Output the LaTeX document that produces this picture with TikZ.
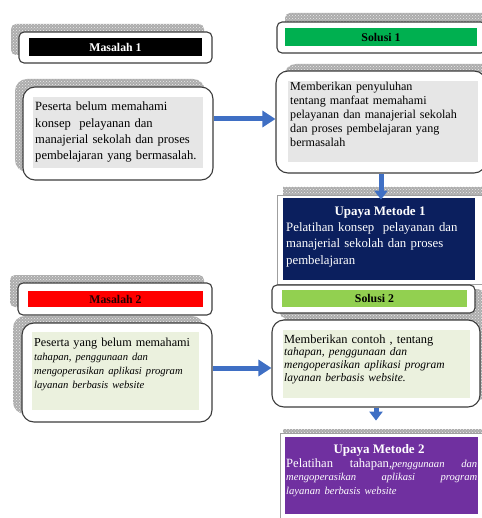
\documentclass[tikz,border=0pt]{standalone}
\usepackage{fontspec}
\setmainfont{Liberation Serif}
\usetikzlibrary{patterns,fit,arrows.meta}
\definecolor{boxline}{HTML}{3C3C3C}
\definecolor{greyfill}{HTML}{E6E6E6}
\definecolor{lgfill}{HTML}{EBF1DE}
\definecolor{sgreen}{HTML}{00B050}
\definecolor{lgreen}{HTML}{92D050}
\definecolor{navy}{HTML}{0B1F5E}
\definecolor{mred}{HTML}{FF0000}
\definecolor{purp}{HTML}{7030A0}
\definecolor{arrowblue}{HTML}{3F6FC4}
\newcommand{\itx}[1]{{\fontsize{10.6}{13}\selectfont\itshape #1}}
\begin{document}
\begin{tikzpicture}[x=1pt,y=-1pt,
  shadowpat/.style={preaction={fill=gray!65}, pattern=crosshatch dots, pattern color=gray!15},
  wbox/.style={draw=boxline, line width=1.1pt, fill=white, inner sep=0pt},
  hbox/.style={wbox, rounded corners=5pt},
  tbox/.style={wbox, rounded corners=12pt},
  ubox/.style={draw=gray!75, line width=0.8pt, fill=white, inner sep=0pt},
  bar/.style={inner sep=0pt, draw=none},
  ttl/.style={font=\bfseries\fontsize{11.8}{13}\selectfont, inner sep=0pt},
  para/.style={anchor=base west, inner sep=0pt, align=left, text width=#1},
  barrow/.style={line width=5pt, draw=arrowblue, -{Triangle[length=13pt,width=16pt]}},
  darrow/.style={line width=5pt, draw=arrowblue, -{Triangle[length=9pt,width=13pt]}},
]
\useasboundingbox (0,0) rectangle (481,518);

% ---------- Masalah 1 header
\path[shadowpat, rounded corners=5pt] (11,24) rectangle (204,55);
\node[hbox, fit={(19,32) (212,63)}] (m1h) {};
\node[bar, fill=black, fit={(29,38) (202,56)}] (m1bar) {};
\node[ttl, text=white] (m1ttl) at (m1bar.center) {Masalah 1};

% ---------- Masalah 1 text
\path[shadowpat, rounded corners=12pt] (15,79) rectangle (205,172);
\node[tbox, fit={(23,87) (213,180)}] (m1t) {};
\node[bar, fill=greyfill, fit={(33,97) (203,168)}] (m1fill) {};
\node[para=168pt, font=\fontsize{12.6}{16.3}\selectfont] (m1txt) at (35,111)
  {Peserta belum memahami\\ konsep\ \ pelayanan dan\\ manajerial sekolah dan proses\\ pembelajaran yang bermasalah.};

% ---------- Solusi 1 header
\path[shadowpat, rounded corners=5pt] (285,13) rectangle (492,45);
\node[hbox, fit={(277,22) (486,53)}] (s1h) {};
\node[bar, fill=sgreen, fit={(285,28) (477,46)}] (s1bar) {};
\node[ttl, text=black] (s1ttl) at (s1bar.center) {Solusi 1};

% ---------- Solusi 1 text
\path[shadowpat, rounded corners=12pt] (284,64) rectangle (494,165);
\node[tbox, fit={(276,71) (486,173)}] (s1t) {};
\node[bar, fill=greyfill, fit={(288,81) (478,162)}] (s1fill) {};
\node[para=188pt, font=\fontsize{12.1}{14}\selectfont] (s1txt) at (290,91)
  {Memberikan penyuluhan\\ tentang manfaat memahami\\ pelayanan dan manajerial sekolah\\ dan proses pembelajaran yang\\ bermasalah};

% ---------- Upaya Metode 1
\path[shadowpat] (283,187) rectangle (492,276);
\node[ubox, fit={(277,195) (483,284)}] (u1) {};
\node[bar, fill=navy, fit={(283,198) (475,280)}] (u1fill) {};
\node[ttl, text=white, font=\bfseries\fontsize{13}{14}\selectfont] (u1ttl) at (380,212) {Upaya Metode 1};
\node[para=188pt, text=white, font=\fontsize{12.8}{16.5}\selectfont] (u1txt) at (286,231)
  {Pelatihan konsep\ \ pelayanan dan\\ manajerial sekolah dan proses\\ pembelajaran};

% ---------- Masalah 2 header
\path[shadowpat, rounded corners=5pt] (10,275) rectangle (204,307);
\node[hbox, fit={(18,283) (212,315)}] (m2h) {};
\node[bar, fill=mred, fit={(28,291) (203,307)}] (m2bar) {};
\node[ttl, text=black!85!red] (m2ttl) at (m2bar.center) {Masalah 2};

% ---------- Masalah 2 text
\path[shadowpat, rounded corners=12pt] (13,316) rectangle (204,414);
\node[tbox, fit={(22,323) (212,422)}] (m2t) {};
\node[bar, fill=lgfill, fit={(32,332) (199,410)}] (m2fill) {};
\node[para=185pt, font=\fontsize{12.2}{14.3}\selectfont] (m2txt) at (34,346)
  {Peserta yang belum memahami\\ \itx{tahapan, penggunaan dan}\\ \itx{mengoperasikan aplikasi program}\\ \itx{layanan berbasis website}};

% ---------- Solusi 2 header
\path[shadowpat, rounded corners=5pt] (280,289) rectangle (483,318);
\node[hbox, fit={(272,285) (475,313)}] (s2h) {};
\node[bar, fill=lgreen, fit={(282,290) (467,307)}] (s2bar) {};
\node[ttl, text=black] (s2ttl) at (s2bar.center) {Solusi 2};

% ---------- Solusi 2 text
\path[shadowpat, rounded corners=12pt] (280,316) rectangle (490,400);
\node[tbox, fit={(272,320) (480,407)}] (s2t) {};
\node[bar, fill=lgfill, fit={(283,330) (470,398)}] (s2fill) {};
\node[para=185pt, font=\fontsize{12.4}{12.7}\selectfont] (s2txt) at (284,343)
  {Memberikan contoh , tentang\\ {\fontsize{11.5}{12.7}\selectfont\itshape tahapan, penggunaan dan}\\ {\fontsize{11.5}{12.7}\selectfont\itshape mengoperasikan aplikasi program}\\ {\fontsize{11.5}{12.7}\selectfont\itshape layanan berbasis website.}};

% ---------- Upaya Metode 2
\path[shadowpat] (283,429) rectangle (492,515);
\node[ubox, fit={(280,433) (485,522)}] (u2) {};
\node[bar, fill=purp, fit={(285,437) (478,514)}] (u2fill) {};
\node[ttl, text=white, font=\bfseries\fontsize{13}{14}\selectfont] (u2ttl) at (379,450) {Upaya Metode 2};
\node[para=191pt, text=white, font=\fontsize{12.6}{13.5}\selectfont] (u2txt) at (286,467)
  {Pelatihan\hfill tahapan,\itx{penggunaan}\hfill\itx{dan}\\
   \itx{mengoperasikan}\hfill\itx{aplikasi}\hfill\itx{program}\\
   \itx{layanan berbasis website}};

% ---------- Arrows
\coordinate (a1y) at (0,119);
\coordinate (a3y) at (0,368);
\draw[barrow] (m1t.east |- a1y) -- (s1t.west |- a1y);
\draw[darrow, shorten >=-5pt] (s1t.south) -- (s1t.south |- u1.north);
\draw[barrow] (m2t.east |- a3y) -- (s2t.west |- a3y);
\draw[darrow, shorten >=12pt] (s2t.south) -- (s2t.south |- u2.north);
\end{tikzpicture}
\end{document}
